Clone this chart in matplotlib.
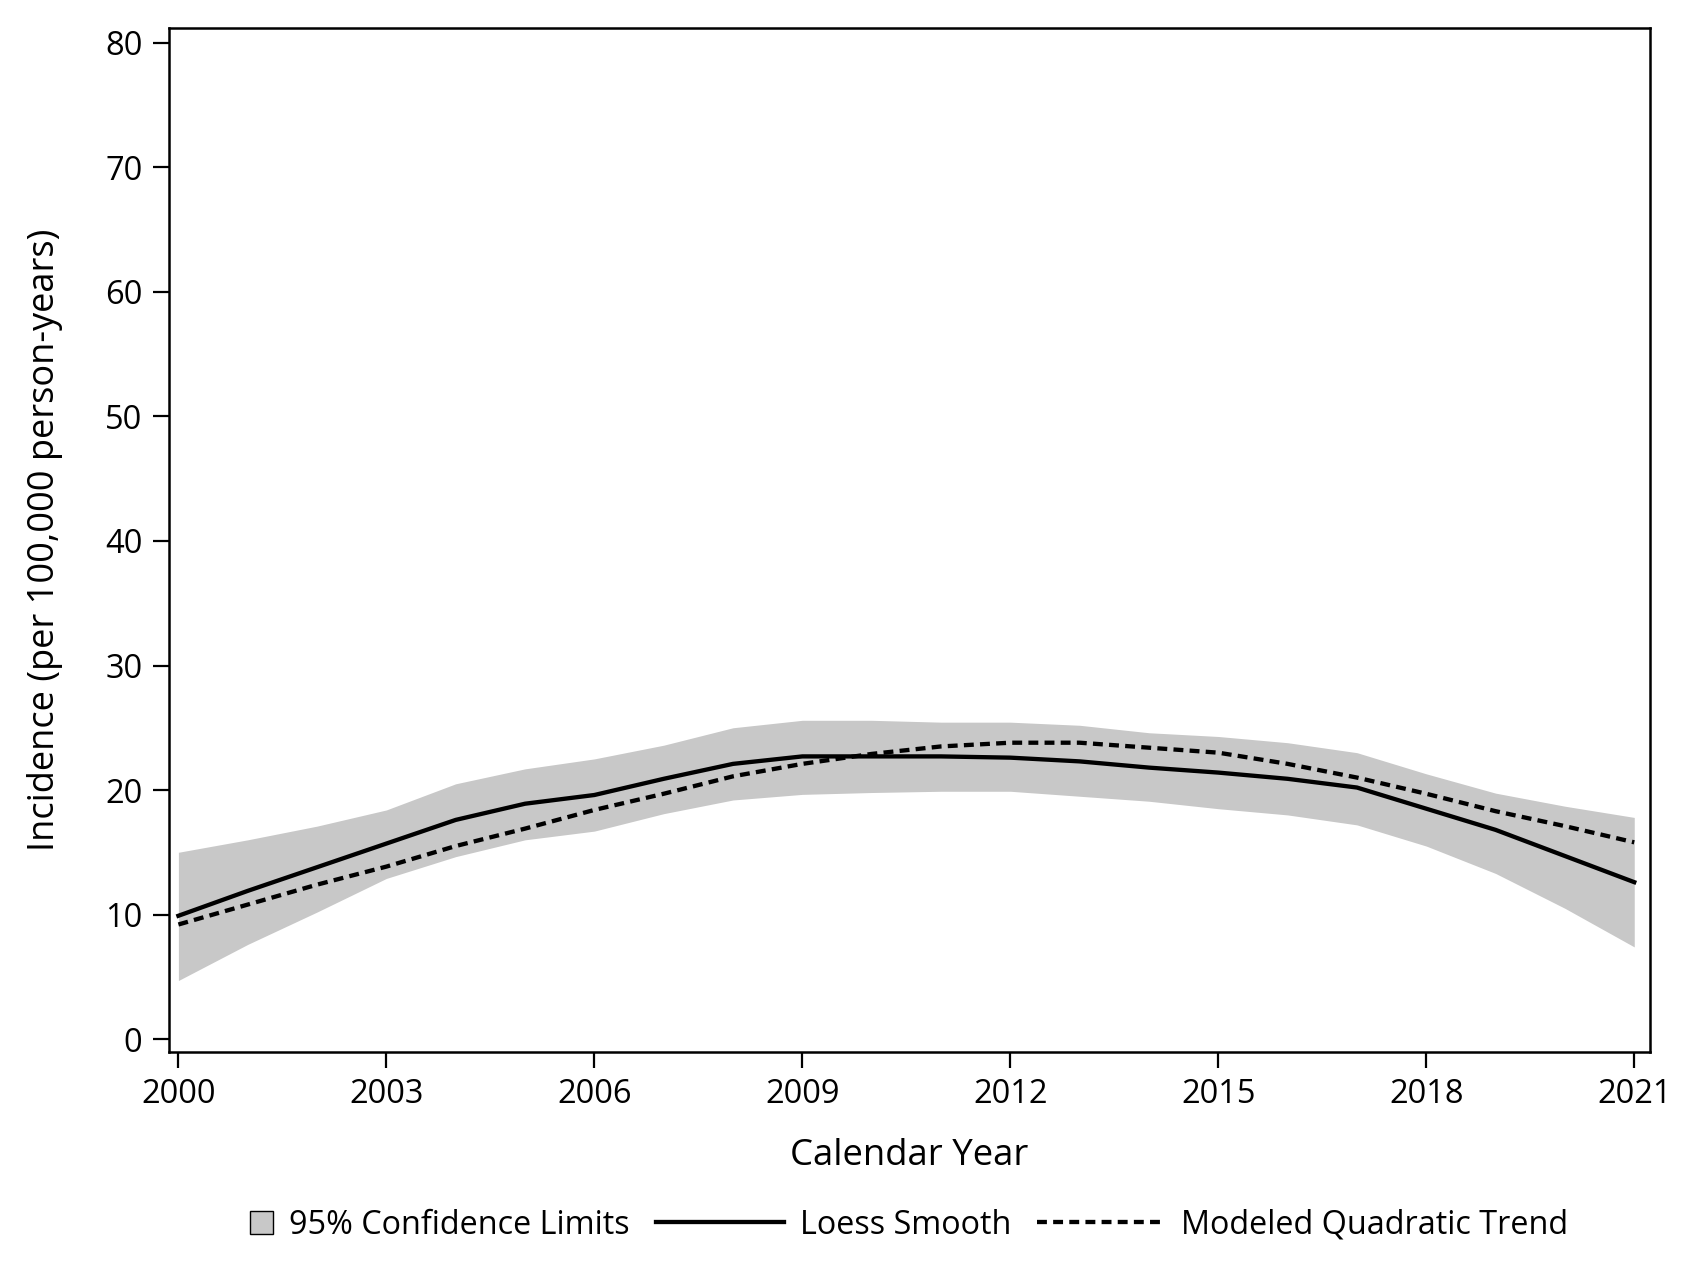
import matplotlib
matplotlib.use("Agg")
import matplotlib.pyplot as plt
from matplotlib.lines import Line2D
from matplotlib.patches import Rectangle, Patch
from matplotlib.legend_handler import HandlerPatch

plt.rcParams['font.family'] = ['Open Sans', 'DejaVu Sans']

years = list(range(2000, 2022))
loess = [9.9, 11.9, 13.8, 15.7, 17.6, 18.9, 19.6, 20.9, 22.1, 22.7, 22.7,
         22.7, 22.6, 22.3, 21.8, 21.4, 20.9, 20.2, 18.5, 16.8, 14.7, 12.6]
quadratic = [9.2, 10.8, 12.4, 13.85, 15.5, 16.9, 18.4, 19.7, 21.1, 22.1, 22.9,
             23.5, 23.8, 23.8, 23.4, 23.0, 22.1, 21.0, 19.7, 18.3, 17.1, 15.8]
ci_upper = [15.0, 16.0, 17.1, 18.4, 20.5, 21.7, 22.5, 23.6, 25.0, 25.6, 25.6,
            25.45, 25.45, 25.2, 24.6, 24.3, 23.8, 23.0, 21.3, 19.75, 18.7, 17.8]
ci_lower = [4.7, 7.6, 10.2, 12.9, 14.65, 16.0, 16.7, 18.1, 19.2, 19.65, 19.8,
            19.9, 19.9, 19.5, 19.1, 18.5, 18.0, 17.2, 15.5, 13.3, 10.5, 7.4]
xticks = [2000, 2003, 2006, 2009, 2012, 2015, 2018, 2021]
yticks = [0, 10, 20, 30, 40, 50, 60, 70, 80]
legend_labels = ["95% Confidence Limits", "Loess Smooth", "Modeled Quadratic Trend"]

W, H = 1684, 1262
DPI = 100
fig = plt.figure(figsize=(W / DPI, H / DPI), dpi=DPI)
L, R, T, B = 168.7, 1649.5, 28, 1052
ax = fig.add_axes([L / W, 1 - B / H, (R - L) / W, (B - T) / H])

band_color = '#c8c8c8'
LW = 3.1
DASH = (0, (2.3, 1.45))
ax.fill_between(years, ci_lower, ci_upper, color=band_color, linewidth=0)
ax.plot(years, loess, color='black', lw=LW, solid_joinstyle='round')
ax.plot(years, quadratic, color='black', lw=LW, linestyle=DASH)

ax.set_xlim(1999.86, 2021.22)
ax.set_ylim(-1.04, 81.2)
ax.set_xticks(xticks)
ax.set_yticks(yticks)
for s in ax.spines.values():
    s.set_linewidth(1.8)
ax.tick_params(axis='both', direction='out', length=11.5, width=1.6,
               labelsize=23.5, color='black', labelcolor='black')
ax.tick_params(axis='y', pad=7.5)
ax.tick_params(axis='x', pad=7.5)

ax.set_xlabel("Calendar Year", fontsize=26.3, va='center')
ax.set_ylabel("Incidence (per 100,000 person-years)", fontsize=26, va='center')
ax.xaxis.set_label_coords(0.5, (B - 1156) / (B - T))
ax.yaxis.set_label_coords((45 - L) / (R - L), 0.5)

leg_fs = 23.3
handlelen = 3.96
sq = 0.72 * leg_fs


def make_square(legend, orig_handle, xdescent, ydescent, width, height, fontsize):
    return Rectangle((width - sq - xdescent, -ydescent + (height - sq) / 2), sq, sq,
                     facecolor=band_color, edgecolor='black', linewidth=1.4)


# empty space left of the square inside its handle box (points -> pixels)
empty_px = (handlelen * leg_fs - sq) * DPI / 72
anchor_x = ((L + R) / 2 - empty_px / 2) / W

handles = [Patch(facecolor=band_color, edgecolor='black'),
           Line2D([], [], color='black', lw=LW),
           Line2D([], [], color='black', lw=LW, linestyle=DASH)]
fig.legend(handles, legend_labels, ncol=3, loc='center',
           bbox_to_anchor=(anchor_x, 1 - 1225 / H),
           bbox_transform=fig.transFigure, frameon=False, fontsize=leg_fs,
           handlelength=handlelen, handletextpad=0.5, columnspacing=0.8,
           borderpad=0, borderaxespad=0,
           handler_map={Patch: HandlerPatch(patch_func=make_square)})

fig.savefig("out.png", dpi=DPI)
